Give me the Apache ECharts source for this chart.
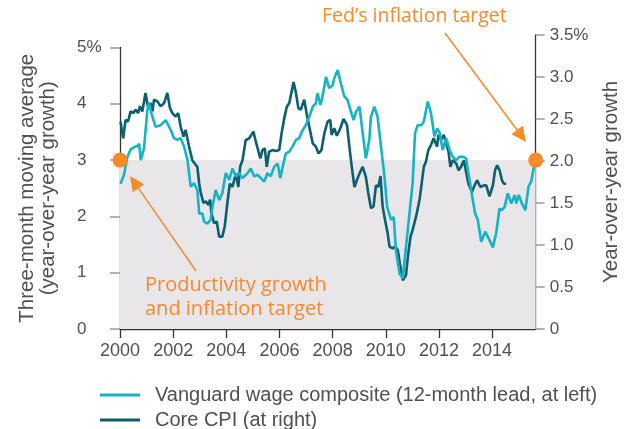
<!DOCTYPE html>
<html>
<head>
<meta charset="utf-8">
<script src="https://cdn.jsdelivr.net/npm/echarts@6/dist/echarts.min.js"></script>
<style>
  html, body { margin: 0; padding: 0; background: #fff; }
  #chart { width: 626px; height: 429px; }
</style>
</head>
<body>
<div id="chart"></div>
<script>
var xMax = 2015.64;
var xTicks = [2000, 2002, 2004, 2006, 2008, 2010, 2012, 2014];

// Vanguard wage composite, left axis (%)
var wageYears = [2000.02, 2000.15, 2000.28, 2000.40, 2000.53, 2000.65, 2000.72, 2000.78, 2000.90, 2001.03,
  2001.09, 2001.15, 2001.22, 2001.34, 2001.53, 2001.72, 2001.78, 2001.91, 2002.03, 2002.16,
  2002.28, 2002.41, 2002.54, 2002.66, 2002.79, 2002.91, 2002.98, 2003.10, 2003.16, 2003.29,
  2003.41, 2003.48, 2003.60, 2003.73, 2003.85, 2003.98, 2004.11, 2004.23, 2004.36, 2004.48,
  2004.61, 2004.80, 2004.92, 2005.05, 2005.17, 2005.30, 2005.43, 2005.55, 2005.67, 2005.80,
  2005.93, 2006.03, 2006.12, 2006.24, 2006.37, 2006.49, 2006.62, 2006.74, 2006.87, 2006.99,
  2007.12, 2007.25, 2007.37, 2007.43, 2007.54, 2007.62, 2007.75, 2007.87, 2008.00, 2008.06,
  2008.19, 2008.31, 2008.44, 2008.56, 2008.67, 2008.79, 2008.88, 2009.01, 2009.13, 2009.25,
  2009.38, 2009.44, 2009.57, 2009.69, 2009.82, 2009.95, 2010.05, 2010.20, 2010.30, 2010.38,
  2010.52, 2010.64, 2010.76, 2010.89, 2011.01, 2011.10, 2011.20, 2011.33, 2011.43, 2011.58,
  2011.70, 2011.83, 2011.93, 2012.02, 2012.14, 2012.27, 2012.40, 2012.52, 2012.65, 2012.77,
  2012.90, 2013.02, 2013.09, 2013.21, 2013.36, 2013.46, 2013.59, 2013.74, 2013.87, 2014.03,
  2014.15, 2014.28, 2014.37, 2014.47, 2014.59, 2014.72, 2014.85, 2014.91, 2015.00, 2015.12,
  2015.25, 2015.37, 2015.47, 2015.60];
var wageValues = [2.58, 2.74, 3.06, 3.19, 3.23, 3.25, 3.29, 3.00, 3.20, 3.89,
  4.01, 3.89, 3.77, 3.59, 3.62, 3.71, 3.74, 3.53, 3.39, 3.36,
  3.39, 3.24, 3.00, 2.53, 2.59, 2.47, 2.05, 2.05, 1.91, 1.87,
  1.94, 2.17, 2.47, 2.29, 2.41, 2.77, 2.65, 2.85, 2.71, 2.77,
  2.68, 2.77, 2.85, 2.71, 2.74, 2.68, 2.62, 2.77, 2.71, 2.88,
  2.94, 2.68, 2.88, 3.12, 3.15, 3.24, 3.36, 3.39, 3.53, 3.62,
  3.77, 3.95, 4.01, 4.19, 3.98, 4.13, 4.48, 4.28, 4.33, 4.45,
  4.60, 4.36, 4.13, 4.07, 3.89, 3.71, 3.86, 3.95, 3.48, 3.03,
  3.36, 3.77, 3.95, 3.77, 3.24, 2.71, 2.17, 1.94, 1.99, 1.40,
  0.98, 0.90, 1.46, 2.05, 2.59, 3.48, 3.62, 3.62, 3.68, 4.04,
  3.83, 3.42, 3.56, 3.50, 3.18, 3.39, 3.18, 3.06, 3.00, 3.06,
  3.06, 3.03, 2.82, 2.47, 2.05, 1.94, 1.55, 1.73, 1.61, 1.45,
  1.70, 2.14, 2.11, 2.17, 2.41, 2.23, 2.38, 2.23, 2.38, 2.23,
  2.11, 2.53, 2.62, 2.94];

// Core CPI, right axis (%)
var cpiYears = [2000.02, 2000.12, 2000.21, 2000.30, 2000.40, 2000.50, 2000.59, 2000.68, 2000.75, 2000.84,
  2000.96, 2001.05, 2001.15, 2001.22, 2001.28, 2001.41, 2001.53, 2001.66, 2001.78, 2001.88,
  2001.97, 2002.09, 2002.19, 2002.28, 2002.39, 2002.47, 2002.60, 2002.72, 2002.81, 2002.91,
  2002.98, 2003.04, 2003.14, 2003.23, 2003.32, 2003.39, 2003.44, 2003.54, 2003.64, 2003.73,
  2003.85, 2003.94, 2004.04, 2004.13, 2004.23, 2004.36, 2004.45, 2004.52, 2004.61, 2004.73,
  2004.86, 2005.02, 2005.11, 2005.17, 2005.28, 2005.36, 2005.45, 2005.52, 2005.61, 2005.74,
  2005.86, 2005.99, 2006.08, 2006.18, 2006.28, 2006.37, 2006.53, 2006.62, 2006.71, 2006.80,
  2006.93, 2007.03, 2007.12, 2007.25, 2007.37, 2007.47, 2007.58, 2007.69, 2007.81, 2007.91,
  2007.96, 2008.06, 2008.16, 2008.29, 2008.41, 2008.54, 2008.63, 2008.72, 2008.82, 2008.91,
  2009.01, 2009.13, 2009.25, 2009.34, 2009.44, 2009.54, 2009.63, 2009.72, 2009.80, 2009.88,
  2009.97, 2010.07, 2010.14, 2010.26, 2010.35, 2010.45, 2010.55, 2010.64, 2010.76, 2010.83,
  2010.93, 2011.01, 2011.14, 2011.27, 2011.35, 2011.43, 2011.51, 2011.60, 2011.70, 2011.80,
  2011.93, 2011.98, 2012.08, 2012.18, 2012.27, 2012.36, 2012.43, 2012.52, 2012.65, 2012.74,
  2012.83, 2012.94, 2013.02, 2013.11, 2013.24, 2013.34, 2013.44, 2013.56, 2013.69, 2013.78,
  2013.90, 2014.03, 2014.11, 2014.19, 2014.28, 2014.37, 2014.44, 2014.53];
var cpiValues = [2.47, 2.27, 2.49, 2.47, 2.59, 2.57, 2.61, 2.57, 2.65, 2.59,
  2.81, 2.65, 2.69, 2.59, 2.73, 2.71, 2.65, 2.69, 2.81, 2.63,
  2.57, 2.53, 2.57, 2.41, 2.29, 2.37, 2.17, 2.01, 1.97, 1.93,
  1.73, 1.62, 1.50, 1.52, 1.48, 1.54, 1.38, 1.26, 1.28, 1.10,
  1.10, 1.22, 1.50, 1.73, 1.69, 1.85, 1.69, 1.93, 2.01, 2.25,
  2.27, 2.35, 2.23, 2.21, 2.03, 2.13, 2.15, 1.93, 2.11, 2.13,
  2.12, 2.13, 2.33, 2.51, 2.65, 2.69, 2.94, 2.81, 2.63, 2.61,
  2.73, 2.55, 2.41, 2.21, 2.17, 2.09, 2.13, 2.33, 2.47, 2.49,
  2.31, 2.39, 2.30, 2.39, 2.50, 2.43, 2.17, 1.93, 1.69, 1.77,
  1.85, 1.93, 1.81, 1.62, 1.44, 1.46, 1.71, 1.69, 1.82, 1.46,
  1.30, 1.14, 0.98, 0.96, 0.98, 0.94, 0.74, 0.58, 0.64, 0.86,
  1.10, 1.18, 1.34, 1.54, 1.73, 1.93, 1.99, 2.13, 2.19, 2.27,
  2.17, 2.31, 2.25, 2.31, 2.21, 2.11, 1.93, 2.01, 1.97, 1.89,
  1.93, 2.01, 1.87, 1.73, 1.63, 1.71, 1.77, 1.69, 1.71, 1.71,
  1.58, 1.71, 1.89, 1.95, 1.89, 1.77, 1.73, 1.73];

// target markers (left axis value 3 = right axis value 2)
var targetYears = [2000, xMax];
var targetValues = [3, 3];
var shadeTop = 3;

var wageColor = '#14b4c4';
var cpiColor = '#0c5f6f';
var orange = '#f68b2c';
var textColor = '#505050';
var font = 'Liberation Sans';

function zip(xs, ys) {
  return xs.map(function (x, i) { return [x, ys[i]]; });
}

function arrow(x1, y1, x2, y2) {
  var dx = x2 - x1, dy = y2 - y1;
  var len = Math.sqrt(dx * dx + dy * dy);
  var ux = dx / len, uy = dy / len;
  var head = 15, half = 7;
  var bx = x2 - ux * head, by = y2 - uy * head;
  return [
    { type: 'line', shape: { x1: x1, y1: y1, x2: bx, y2: by }, style: { stroke: orange, lineWidth: 1.5 }, z: 20 },
    { type: 'polygon', shape: { points: [[x2, y2], [bx - uy * half, by + ux * half], [bx + uy * half, by - ux * half]] },
      style: { fill: orange }, z: 20 }
  ];
}

var chart = echarts.init(document.getElementById('chart'));

var option = {
  animation: false,
  grid: [
    { left: 120, right: 90.3, top: 47.5, bottom: 100, outerBoundsMode: 'none' },
    { left: 120, right: 90.3, top: 35, bottom: 100, outerBoundsMode: 'none' }
  ],
  xAxis: [{
    gridIndex: 0,
    type: 'value',
    min: 2000,
    max: xMax,
    interval: 2,
    axisLine: { lineStyle: { color: '#333', width: 1.3 } },
    axisTick: { show: true, length: 9, customValues: xTicks, lineStyle: { color: '#333', width: 1.3 } },
    axisLabel: {
      customValues: xTicks, margin: 13, color: textColor, fontSize: 18, fontFamily: font,
      formatter: function (v) { return v % 1 === 0 ? String(v) : ''; }
    },
    splitLine: { show: false }
  }, {
    gridIndex: 1,
    type: 'value',
    min: 2000,
    max: xMax,
    show: false
  }],
  yAxis: [{
    gridIndex: 0,
    type: 'value',
    position: 'left',
    min: 0,
    max: 5,
    interval: 1,
    axisLine: { show: true, lineStyle: { color: '#333', width: 1.3 } },
    axisTick: { show: true, length: 10, lineStyle: { color: '#999', width: 1.5 } },
    axisLabel: {
      align: 'left', margin: 43, color: textColor, fontSize: 17, fontFamily: font,
      formatter: function (v) { return v === 5 ? '5%' : String(v); }
    },
    splitLine: { show: false },
    name: 'Three-month moving average\n(year-over-year growth)',
    nameLocation: 'middle',
    nameRotate: 90,
    nameGap: 61,
    nameTextStyle: { color: textColor, fontSize: 20.5, fontFamily: font, lineHeight: 21 }
  }, {
    gridIndex: 1,
    type: 'value',
    position: 'right',
    min: 0,
    max: 3.5,
    interval: 0.5,
    axisLine: { show: true, lineStyle: { color: '#333', width: 1.3 } },
    axisTick: { show: true, length: 9, lineStyle: { color: '#999', width: 1.5 } },
    axisLabel: {
      margin: 14, color: textColor, fontSize: 17, fontFamily: font,
      formatter: function (v) { return v === 3.5 ? '3.5%' : (v === 0 ? '0' : v.toFixed(1)); }
    },
    splitLine: { show: false }
  }],
  legend: {
    orient: 'vertical',
    left: 100,
    top: 385,
    height: 80,
    padding: 0,
    itemWidth: 40,
    itemHeight: 3,
    itemGap: 5,
    icon: 'rect',
    textStyle: { color: textColor, fontSize: 20, fontFamily: font, padding: [0, 0, 0, 10] },
    data: ['Vanguard wage composite (12-month lead, at left)', 'Core CPI (at right)']
  },
  series: [{
    name: 'Core CPI (at right)',
    type: 'line',
    xAxisIndex: 1,
    yAxisIndex: 1,
    data: zip(cpiYears, cpiValues),
    showSymbol: false,
    lineStyle: { color: cpiColor, width: 2.6 },
    itemStyle: { color: cpiColor },
    z: 3
  }, {
    name: 'Vanguard wage composite (12-month lead, at left)',
    type: 'line',
    xAxisIndex: 0,
    yAxisIndex: 0,
    data: zip(wageYears, wageValues),
    showSymbol: false,
    lineStyle: { color: wageColor, width: 2.6 },
    itemStyle: { color: wageColor },
    z: 4,
    markArea: {
      silent: true,
      itemStyle: { color: '#e8e6e8' },
      data: [[{ yAxis: 0 }, { yAxis: shadeTop }]]
    }
  }, {
    name: 'targets',
    type: 'scatter',
    xAxisIndex: 0,
    yAxisIndex: 0,
    data: zip(targetYears, targetValues),
    symbolSize: 15,
    itemStyle: { color: orange, opacity: 1 },
    clip: false,
    z: 10
  }],
  graphic: [
    { type: 'text', x: 611, y: 182, rotation: Math.PI / 2, z: 20,
      style: { text: 'Year-over-year growth', fill: textColor, font: '20.5px "Liberation Sans"',
        textAlign: 'center', textVerticalAlign: 'middle' } },
    { type: 'text', left: 322, top: 6, z: 20,
      style: { text: 'Fed\u2019s inflation target', fill: orange, font: '19.5px "Open Sans"' } },
    { type: 'text', left: 145, top: 273, z: 20,
      style: { text: 'Productivity growth\nand inflation target', fill: orange, font: '20px "Open Sans"', lineHeight: 24 } }
  ].concat(arrow(445, 33, 526, 142), arrow(196, 271, 130, 176))
};

chart.setOption(option);
</script>
</body>
</html>
